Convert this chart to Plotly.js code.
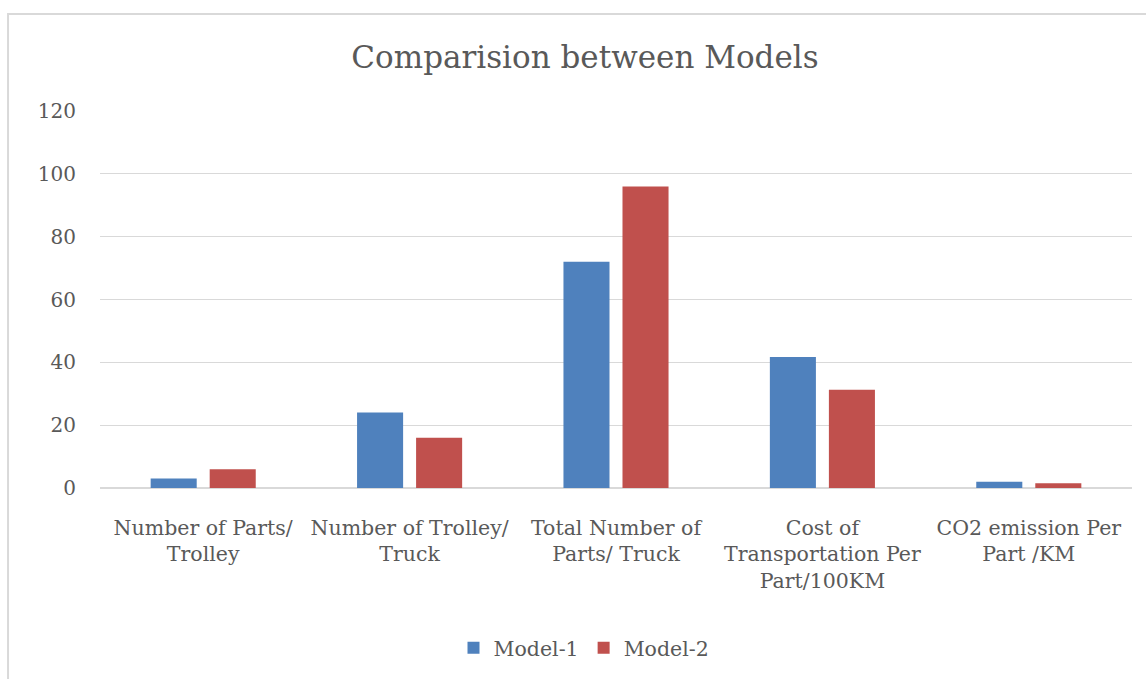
<!DOCTYPE html>
<html>
<head>
<meta charset="utf-8">
<script src="https://cdn.plot.ly/plotly-3.0.1.min.js"></script>
<style>
html,body{margin:0;padding:0;background:#fff;}
#chart{width:1146px;height:679px;}
</style>
</head>
<body>
<div id="chart"></div>
<script>
const categories = [
  "Number of Parts/<br>Trolley",
  "Number of Trolley/<br>Truck",
  "Total Number of<br>Parts/ Truck",
  "Cost of<br>Transportation Per<br>Part/100KM",
  "CO2 emission Per<br>Part /KM"
];
const model1 = [3, 24, 72, 41.7, 2];
const model2 = [6, 16, 96, 31.3, 1.5];
const seriesNames = ["Model-1", "Model-2"];
const yTicks = [0, 20, 40, 60, 80, 100, 120];

const FONT = "DejaVu Serif, Liberation Serif, serif";
const TXT = "#595959";

const traces = [
  {type: "bar", name: seriesNames[0], x: categories, y: model1,
   marker: {color: "#4f81bd"}},
  {type: "bar", name: seriesNames[1], x: categories, y: model2,
   marker: {color: "#c0504d"}}
];

const layout = {
  width: 1146, height: 679,
  margin: {l: 100, r: 14, t: 111, b: 190.5, pad: 0},
  paper_bgcolor: "#ffffff", plot_bgcolor: "#ffffff",
  font: {family: FONT, color: TXT, size: 20},
  title: {text: "Comparision between Models", font: {family: FONT, size: 31, color: TXT},
          x: 585/1146, xref: "container", xanchor: "center", y: 1 - 57/679, yref: "container", yanchor: "middle"},
  barmode: "group", bargap: 0.428, bargroupgap: 0.22,
  xaxis: {type: "category", showgrid: false, showline: false, zeroline: false,
          ticks: "outside", ticklen: 21, tickcolor: "rgba(0,0,0,0)",
          tickfont: {family: FONT, size: 20.5, color: TXT}, automargin: false},
  yaxis: {range: [0, 120], tickvals: yTicks, ticktext: yTicks.map(String),
          showgrid: true, gridcolor: "#d9d9d9", gridwidth: 1.3,
          zeroline: true, zerolinecolor: "#d9d9d9", zerolinewidth: 1.5,
          showline: false, ticks: "outside", ticklen: 19, tickcolor: "rgba(0,0,0,0)",
          tickfont: {family: FONT, size: 20, color: TXT}, automargin: false},
  showlegend: true,
  legend: {orientation: "h", x: 584/1146, xref: "container", xanchor: "center", y: 1 - 648/679, yref: "container", yanchor: "middle",
           font: {family: FONT, size: 20.5, color: TXT}, traceorder: "normal", itemwidth: 30},
  shapes: [
    {type: "rect", xref: "paper", yref: "paper", x0: -0.0891, x1: 1.05, y0: -0.6, y1: 1.257,
     line: {color: "#d9d9d9", width: 2}, fillcolor: "rgba(0,0,0,0)", layer: "below"}
  ]
};

Plotly.newPlot("chart", traces, layout, {displayModeBar: false, staticPlot: true});
</script>
</body>
</html>
